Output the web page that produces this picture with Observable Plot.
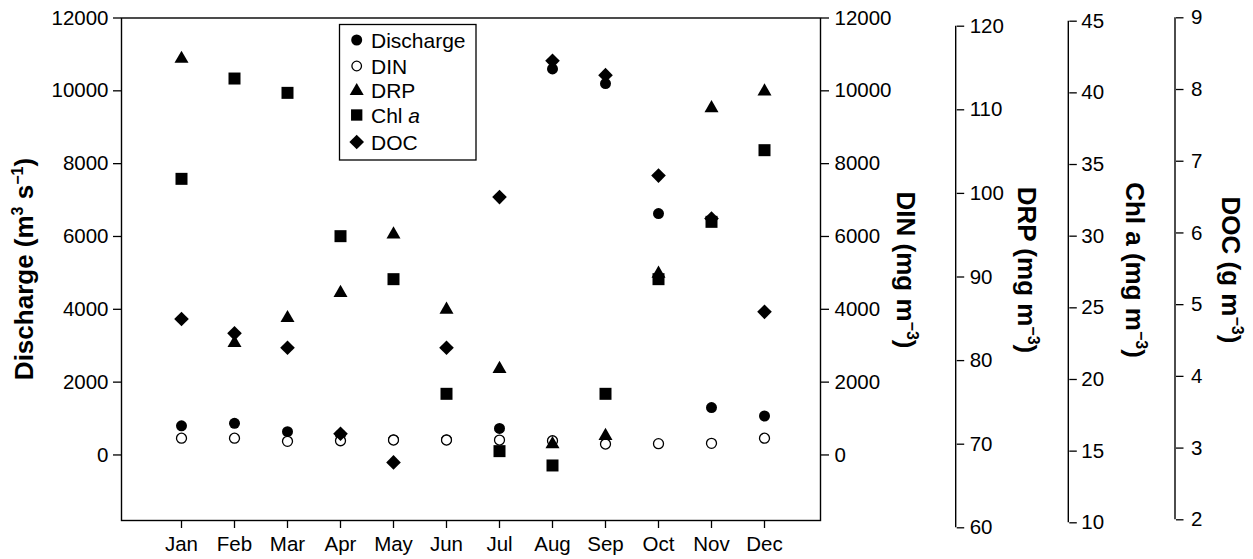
<!DOCTYPE html>
<html><head><meta charset="utf-8">
<script src="https://cdn.jsdelivr.net/npm/d3@7"></script>
<script src="https://cdn.jsdelivr.net/npm/@observablehq/plot@0.6"></script>
<style>
body{margin:0;background:#fff;}
#chart{position:relative;width:1253px;height:559px;font-family:"Liberation Sans",Arial,Helvetica,sans-serif;}
#chart svg{position:absolute;left:0;top:0;overflow:visible;}
</style></head><body><div id="chart"></div>
<script>
const months = ["Jan","Feb","Mar","Apr","May","Jun","Jul","Aug","Sep","Oct","Nov","Dec"];
const discharge = [800, 870, 640, 560, 420, 420, 730, 10600, 10200, 6630, 1300, 1070];
const din = [460, 460, 375, 390, 410, 410, 410, 390, 300, 310, 320, 460];
const drp = [116.1, 82.1, 85.1, 88.1, 95.1, 86.1, 79.0, 70.0, 71.0, 90.4, 110.2, 112.2];
const chla = [34.0, 41.0, 40.0, 30.0, 27.0, 19.0, 15.0, 14.0, 19.0, 27.0, 31.0, 36.0];
const doc = [4.8, 4.6, 4.4, 3.2, 2.8, 4.4, 6.5, 8.4, 8.2, 6.8, 6.2, 4.9];
const dischargeTicks = [0, 2000, 4000, 6000, 8000, 10000, 12000];
const drpTicks = [60, 70, 80, 90, 100, 110, 120];
const chlTicks = [10, 15, 20, 25, 30, 35, 40, 45];
const docTicks = [2, 3, 4, 5, 6, 7, 8, 9];
const legendItems = ["Discharge", "DIN", "DRP", "Chl a", "DOC"];

const data = months.map((m, i) => ({month: m, discharge: discharge[i], din: din[i], drp: drp[i], chla: chla[i], doc: doc[i]}));

const W = 1253, H = 559;
const FONT = "Liberation Sans, Arial, Helvetica, sans-serif";
const frameRight = 820;
const xOpts = {type: "point", domain: months, padding: 0.994, align: 0.517, axis: null};

function layer(domain, top, bottom, marks) {
  return Plot.plot({
    width: W, height: H,
    marginLeft: 121, marginRight: W - frameRight, marginTop: top, marginBottom: H - bottom,
    x: xOpts,
    y: {domain, axis: null},
    style: {background: "transparent", fontFamily: FONT, fontSize: "20.5px", color: "black", overflow: "visible"},
    marks
  });
}
const fmt = d => String(d);

const main = layer([-1800, 12000], 17.5, 520, [
  Plot.frame({stroke: "black", strokeWidth: 1.4}),
  Plot.axisY(dischargeTicks, {anchor: "left", tickSize: 8, tickPadding: 5, tickFormat: fmt, label: null, strokeWidth: 1.3}),
  Plot.axisY(dischargeTicks, {anchor: "right", tickSize: 8, tickPadding: 6, tickFormat: fmt, label: null, strokeWidth: 1.3}),
  Plot.axisX(months, {anchor: "bottom", tickSize: 8, tickPadding: 8, label: null, strokeWidth: 1.3}),
  Plot.dot(data, {x: "month", y: "discharge", r: 5.5, fill: "black", stroke: "none"}),
  Plot.dot(data, {x: "month", y: "din", r: 5, fill: "white", stroke: "black", strokeWidth: 1.3})
]);

const extraAxes = [
  {x: 955.7, ticks: drpTicks, domain: [60, 120], top: 25.7, bottom: 527.3, key: "drp", r: 5.2, symbol: "triangle", pad: 6},
  {x: 1068.3, ticks: chlTicks, domain: [10, 45], top: 20.7, bottom: 522.3, key: "chla", r: 6.77, symbol: "square", pad: 5},
  {x: 1175, ticks: docTicks, domain: [2, 9], top: 17.3, bottom: 519.3, key: "doc", r: 6.58, symbol: "diamond2", pad: 8}
];
const extraLayers = extraAxes.map(a => layer(a.domain, a.top, a.bottom, [
  Plot.axisY(a.ticks, {anchor: "right", dx: a.x - frameRight, tickSize: 7.5, tickPadding: a.pad, tickFormat: fmt, label: null, strokeWidth: 1.3}),
  Plot.dot(data, {x: "month", y: a.key, r: a.r, symbol: a.symbol, fill: "black", stroke: "none"})
]));

const chart = document.getElementById("chart");
[main, ...extraLayers].forEach(s => chart.appendChild(s));

// overlay: axis lines, titles and legend
const svg = d3.select(chart).append("svg").attr("width", W).attr("height", H)
  .style("font-family", FONT);

extraAxes.forEach((a, i) => {
  const [y0, y1] = extraLayers[i].scale("y").range;
  svg.append("line").attr("x1", a.x).attr("x2", a.x).attr("y1", y0).attr("y2", y1)
    .attr("stroke", "black").attr("stroke-width", 1.4);
});

function title(x, y, rot, parts) {
  const t = svg.append("text")
    .attr("transform", `translate(${x},${y}) rotate(${rot})`)
    .attr("text-anchor", "middle")
    .attr("font-weight", "bold")
    .attr("font-size", 26)
    .attr("fill", "black");
  parts.forEach(p => {
    if (typeof p === "string") t.append("tspan").text(p);
    else t.append("tspan").attr("dy", p.sup ? -10 : 10).attr("font-size", p.sup ? 16 : 26).text(p.t);
  });
}
title(33, 269, -90, ["Discharge (m", {t: "3", sup: true}, {t: " s", sup: false}, {t: "−1", sup: true}, {t: ")", sup: false}]);
title(897, 270, 90, ["DIN (mg m", {t: "−3", sup: true}, {t: ")", sup: false}]);
title(1018, 270, 90, ["DRP (mg m", {t: "−3", sup: true}, {t: ")", sup: false}]);
title(1126, 270, 90, ["Chl a (mg m", {t: "−3", sup: true}, {t: ")", sup: false}]);
title(1222, 270, 90, ["DOC (g m", {t: "−3", sup: true}, {t: ")", sup: false}]);

// legend
const lg = svg.append("g");
lg.append("rect").attr("x", 339.5).attr("y", 24.5).attr("width", 136.5).attr("height", 135.5)
  .attr("fill", "white").attr("stroke", "black").attr("stroke-width", 1.3);
const symTypes = [d3.symbolCircle, d3.symbolCircle, d3.symbolTriangle, d3.symbolSquare, d3.symbolDiamond2];
const symSizes = [Math.PI * 5.5 * 5.5, Math.PI * 4.8 * 4.8, Math.PI * 5.2 * 5.2, Math.PI * 6.4 * 6.4, Math.PI * 6.6 * 6.6];
const rowY = [40, 66, 90, 115, 142];
legendItems.forEach((name, i) => {
  const open = i === 1;
  lg.append("path")
    .attr("transform", `translate(356.7,${rowY[i] + (i === 2 ? 1 : 0)})`)
    .attr("d", d3.symbol(symTypes[i], symSizes[i])())
    .attr("fill", open ? "white" : "black")
    .attr("stroke", open ? "black" : "none")
    .attr("stroke-width", 1.3);
  const t = lg.append("text").attr("x", 371).attr("y", rowY[i]).attr("dy", "0.36em")
    .attr("font-size", 21).attr("fill", "black");
  if (name === "Chl a") {
    t.append("tspan").text("Chl ");
    t.append("tspan").attr("font-style", "italic").text("a");
  } else t.text(name);
});
</script></body></html>
